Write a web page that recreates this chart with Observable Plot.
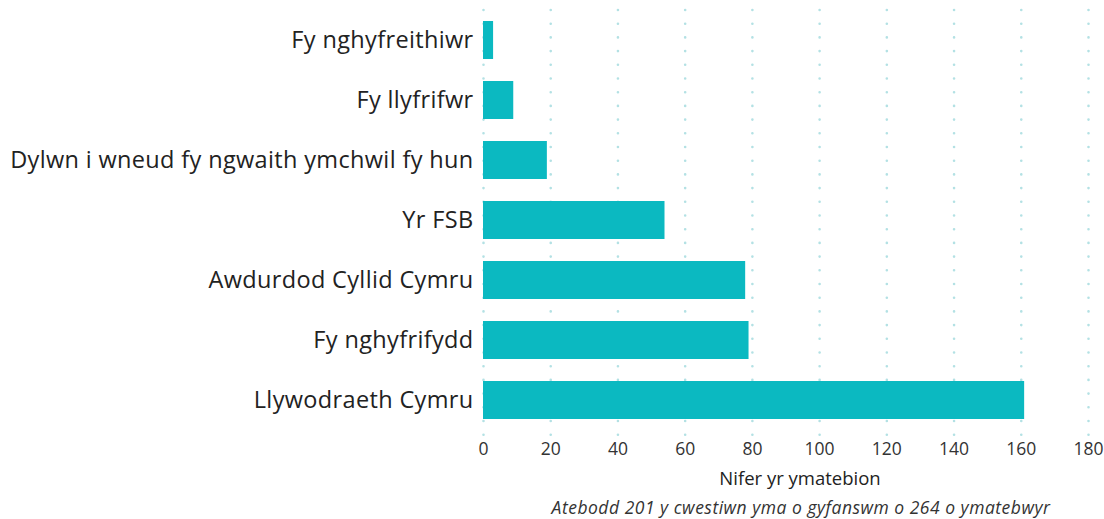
<!DOCTYPE html>
<html>
<head>
<meta charset="utf-8">
<script src="https://cdn.jsdelivr.net/npm/d3@7"></script>
<script src="https://cdn.jsdelivr.net/npm/@observablehq/plot@0.6"></script>
<style>
  html, body { margin: 0; padding: 0; background: #fff; }
  body { width: 1104px; height: 519px; overflow: hidden; font-family: "Open Sans", sans-serif; position: relative; }
  #caption { position: absolute; left: 501px; width: 600px; top: 495px; text-align: center; white-space: nowrap;
    font-family: "Open Sans", sans-serif; font-style: italic; font-size: 17.5px; letter-spacing: 0.5px; color: #333; }
  .ylab text { letter-spacing: 0.35px; }
</style>
</head>
<body>
<div id="chart"></div>
<div id="caption">Atebodd 201 y cwestiwn yma o gyfanswm o 264 o ymatebwyr</div>
<script>
const categories = [
  "Fy nghyfreithiwr",
  "Fy llyfrifwr",
  "Dylwn i wneud fy ngwaith ymchwil fy hun",
  "Yr FSB",
  "Awdurdod Cyllid Cymru",
  "Fy nghyfrifydd",
  "Llywodraeth Cymru"
];
const counts = [3, 9, 19, 54, 78, 79, 161];
const xTicks = [0, 20, 40, 60, 80, 100, 120, 140, 160, 180];
const xLabel = "Nifer yr ymatebion";

const data = categories.map((c, i) => ({category: c, value: counts[i]}));

const chart = Plot.plot({
  width: 1104,
  height: 495,
  marginLeft: 483,
  marginRight: 16,
  marginTop: 6,
  marginBottom: 62,
  style: {fontFamily: "'Open Sans', sans-serif", color: "#222", background: "#fff"},
  x: {domain: [0, 180], ticks: xTicks, label: null},
  y: {domain: categories, paddingInner: 0.375, paddingOuter: 0.2, label: null},
  marks: [
    Plot.ruleX(xTicks, {stroke: "#b3e1e4", strokeWidth: 2.6, strokeLinecap: "round", strokeDasharray: "0,13.7", insetTop: 4, insetBottom: -4}),
    Plot.barX(data, {x: "value", y: "category", fill: "#0bb9c1"}),
    Plot.axisY({tickSize: 0, tickPadding: 10, fontSize: 23.5, fill: "#222", className: "ylab"}),
    Plot.axisX({ticks: xTicks, tickSize: 0, tickPadding: 9, fontSize: 17.5, fill: "#333", label: null}),
    Plot.text([xLabel], {frameAnchor: "bottom", dy: 51, dx: 14, text: d => d, fontSize: 18.5, fill: "#222"})
  ]
});
document.getElementById("chart").appendChild(chart);
</script>
</body>
</html>
